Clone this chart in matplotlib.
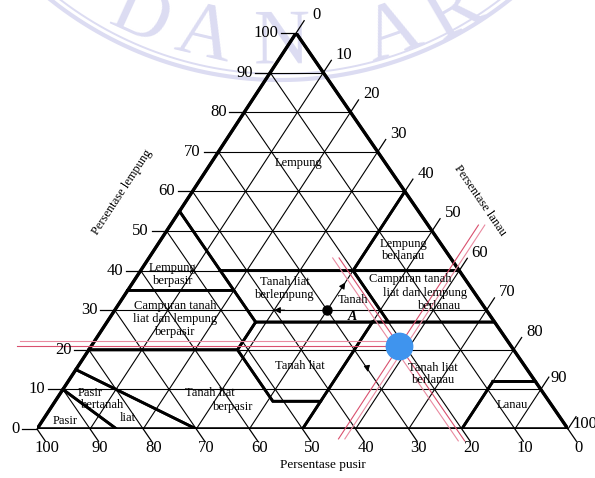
import numpy as np
import matplotlib.pyplot as plt

plt.rcParams['font.family'] = ['Liberation Serif', 'DejaVu Serif']

# the scanned triangle leans a little: apex sits left of the base centre
SKEW = 0.488


def tern(silt, clay):
    # silt / clay percentages -> plot coords (sand is what is left)
    silt = np.asarray(silt, float)
    clay = np.asarray(clay, float)
    return silt + SKEW * clay, clay


# ---- data ---------------------------------------------------------------
ticks = [0, 10, 20, 30, 40, 50, 60, 70, 80, 90, 100]

# class boundaries as (sand, silt, clay)
lempung = [(0, 0, 100), (45, 0, 55), (45, 15, 40), (20, 40, 40), (0, 40, 60)]
lempung_berpasir = [(45, 0, 55), (65, 0, 35), (45, 20, 35), (45, 15, 40)]
lempung_berlanau = [(0, 40, 60), (20, 40, 40), (0, 60, 40)]
campuran_berpasir = [(65, 0, 35), (80, 0, 20), (52, 28, 20), (45, 28, 27), (45, 20, 35)]
liat_berlempung = [(45, 15, 40), (45, 28, 27), (20, 53, 27), (20, 40, 40)]
campuran_berlanau = [(20, 40, 40), (20, 53, 27), (0, 73, 27), (0, 60, 40)]
tanah_liat = [(45, 28, 27), (52, 28, 20), (52, 41, 7), (43, 50, 7), (23, 50, 27)]
liat_berlanau = [(23, 50, 27), (50, 50, 0), (20, 80, 0), (8, 80, 12), (0, 88, 12), (0, 73, 27)]
liat_berpasir = [(80, 0, 20), (85, 0, 15), (70, 30, 0), (50, 50, 0), (43, 50, 7),
                 (52, 41, 7), (52, 28, 20)]
pasir_bertanah_liat = [(85, 0, 15), (90, 0, 10), (85, 15, 0), (70, 30, 0)]
pasir = [(90, 0, 10), (100, 0, 0), (85, 15, 0)]
lanau = [(8, 80, 12), (20, 80, 0), (0, 100, 0), (0, 88, 12)]
classes = [lempung, lempung_berpasir, lempung_berlanau, campuran_berpasir,
           liat_berlempung, campuran_berlanau, tanah_liat, liat_berlanau,
           liat_berpasir, pasir_bertanah_liat, pasir, lanau]

# region names and where they are written (plot coords)
region_text = ['Lempung', 'Lempung\nberlanau', 'Lempung\nberpasir',
               'Tanah liat\nberlempung', 'Campuran tanah\nliat dan lempung\nberpasir',
               'Campuran tanah', 'liat dan lempung', 'berlanau',
               'Tanah liat', 'Tanah liat\nberlanau', 'Tanah liat', 'berpasir',
               'Pasir', 'bertanah', 'liat', 'Pasir', 'Lanau']
region_xy = [(49.2, 67.2), (69.1, 45.2), (25.6, 39.1),
             (46.7, 35.4), (26.0, 27.8),
             (70.2, 37.9), (73.1, 34.3), (75.9, 31.1),
             (49.5, 15.9), (74.6, 13.9), (32.6, 9.1), (36.9, 5.6),
             (10.0, 9.1), (12.4, 6.1), (17.1, 2.8), (5.3, 2.0), (89.6, 6.1)]

# example soil "Tanah A" and the marked sample (sand, silt, clay)
soil_a = (30, 40, 30)
sample = (21, 58, 21)

# ---- figure -------------------------------------------------------------
fig = plt.figure(figsize=(5.95, 4.78), dpi=100)

# faint watermark seal behind the chart
bg = fig.add_axes([0, 0, 1, 1], zorder=-1)
bg.set_xlim(0, 595)
bg.set_ylim(478, 0)
bg.axis('off')
wm = '#dcdcf2'
cx, cy = 280, -288
th = np.linspace(0, np.pi, 300)
for r, lw in [(368, 3.0), (362, 1.4)]:
    bg.plot(cx + r * np.cos(th), cy + r * np.sin(th), color=wm, lw=lw)
for ch, px, py in [('D', 140, 18), ('A', 204, 36), ('N', 282, 44), ('A', 392, 34), ('R', 455, 12)]:
    rot = np.degrees(np.arctan2(px - cx, py - cy))
    bg.text(px, py, ch, fontsize=56, color=wm, ha='center', va='center', rotation=rot)

ax = fig.add_axes([37 / 595, 49 / 478, 531 / 595, 396 / 478])
ax.set_xlim(0, 100)
ax.set_ylim(0, 100)
ax.axis('off')
ax.patch.set_alpha(0)

# grid every 10 %
for k in ticks[1:-1]:
    x, y = tern([0, 100 - k], [k, k])                 # constant clay
    ax.plot(x, y, color='k', lw=0.8)
    x, y = tern([0, 100 - k], [100 - k, 0])           # constant sand
    ax.plot(x, y, color='k', lw=0.8)
    x, y = tern([k, k], [100 - k, 0])                 # constant silt
    ax.plot(x, y, color='k', lw=0.8)

# class boundaries
for poly in classes:
    pts = poly + [poly[0]]
    x, y = tern([p[1] for p in pts], [p[2] for p in pts])
    ax.plot(x, y, color='k', lw=2.0, solid_joinstyle='miter')

# outer triangle
x, y = tern([0, 100, 0, 0], [0, 0, 100, 0])
ax.plot(x, y, color='k', lw=2.4, solid_joinstyle='miter')

# clay axis (left)
for k in ticks:
    x0, y0 = tern(0, k)
    ax.plot([x0 - 2.8, x0], [y0, y0], color='k', lw=0.9, clip_on=False)
    ax.text(x0 - 3.3, y0, str(k), ha='right', va='center', fontsize=12, clip_on=False)

# silt axis (right)
silt_nudge = {90: (-0.6, -1.6), 100: (-0.8, -3.3)}
for k in ticks:
    x0, y0 = tern(k, 100 - k)
    ax.plot([x0, x0 + SKEW * 3.1], [y0, y0 + 3.1], color='k', lw=0.9, clip_on=False)
    dx, dy = silt_nudge.get(k, (0, 0))
    ax.text(x0 + 3.9 + dx, y0 + 4.5 + dy, str(k), ha='center', va='center',
            fontsize=12, clip_on=False)

# sand axis (bottom)
for k in ticks:
    x0, y0 = tern(100 - k, 0)
    ax.plot([x0, x0 + (1 - SKEW) * 3.1], [y0, y0 - 3.1], color='k', lw=0.9, clip_on=False)
    ax.text(x0 + 1.9, y0 - 4.8, str(k), ha='center', va='center', fontsize=12, clip_on=False)

ax.text(16.0, 59.8, 'Persentase lempung', rotation=56.8, ha='center', va='center', fontsize=9)
ax.text(83.4, 57.8, 'Persentase lanau', rotation=-55.5, ha='center', va='center', fontsize=9)
ax.text(53.9, -9.1, 'Persentase pusir', ha='center', va='center', fontsize=9.5, clip_on=False)

for txt, (x, y) in zip(region_text, region_xy):
    ax.text(x, y, txt, ha='center', va='center', fontsize=9, linespacing=1.1)

# Tanah A with reading arrows
xa, ya = tern(soil_a[1], soil_a[2])
ax.plot(xa, ya, 'o', color='k', ms=6.5)
ax.text(59.5, 32.6, 'Tanah', ha='center', va='center', fontsize=9)
ax.text(59.3, 28.3, 'A', ha='center', va='center', fontsize=10, style='italic', weight='bold')
arrows = [((32, 30), (30, 30)), ((40, 35.6), (40, 37.0)), ((54.5, 15.7), (55.3, 14.4))]
for (s0, c0), (s1, c1) in arrows:
    ax.annotate('', xy=tern(s1, c1), xytext=tern(s0, c0),
                arrowprops=dict(arrowstyle='-|>', color='k', lw=0.8, mutation_scale=9,
                                shrinkA=0, shrinkB=0))

# red guide lines through the sample
red = '#d9506e'
s_sand, s_silt, s_clay = sample
for off, col in [(0.0, red), (1.2, '#e98aa0')]:
    x, y = tern([-14, s_silt], [s_clay + off, s_clay + off])
    ax.plot(x, y, color=col, lw=0.8, clip_on=False)
    x, y = tern([s_silt + off, s_silt + off], [-2.5, 51.5])
    ax.plot(x, y, color=col, lw=0.8, clip_on=False)
    x, y = tern([100 - (s_sand + off) + 3, 100 - (s_sand + off) - 43.2],
                [-3.0, 43.2])
    ax.plot(x, y, color=col, lw=0.8, clip_on=False)

xs, ys = tern(s_silt, s_clay)
ax.plot(xs, ys, 'o', color='#3f94ee', ms=19, zorder=5)

fig.savefig('out.png', dpi=100)
